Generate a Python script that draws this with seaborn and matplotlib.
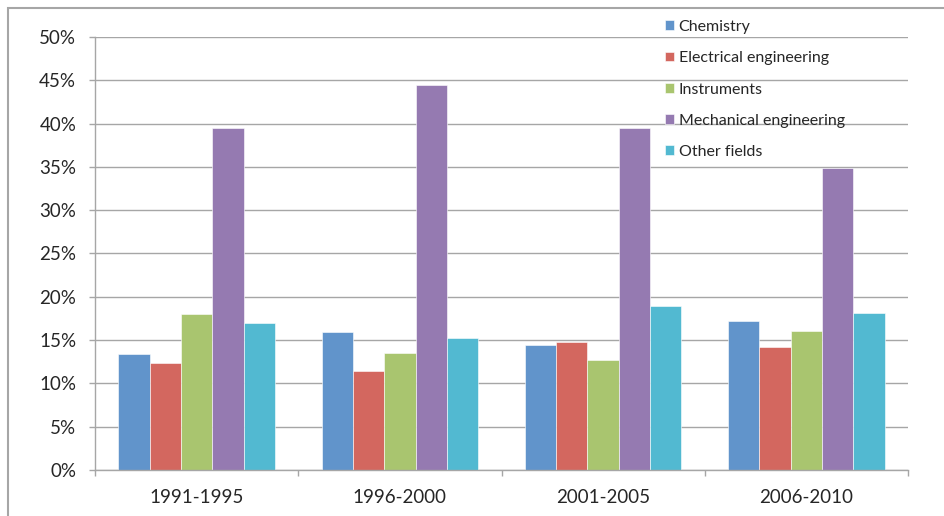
import matplotlib
matplotlib.use("Agg")
import matplotlib.pyplot as plt
import seaborn as sns
import pandas as pd
import numpy as np
from matplotlib.patches import Rectangle
from matplotlib.ticker import FuncFormatter, MultipleLocator, FixedLocator

periods = ["1991-1995", "1996-2000", "2001-2005", "2006-2010"]
fields = ["Chemistry", "Electrical engineering", "Instruments",
          "Mechanical engineering", "Other fields"]
chemistry = [13.4, 15.9, 14.4, 17.2]
electrical = [12.4, 11.4, 14.8, 14.2]
instruments = [18.0, 13.5, 12.7, 16.0]
mechanical = [39.5, 44.4, 39.5, 34.9]
other = [17.0, 15.2, 18.9, 18.1]
colors = ["#6194CB", "#D3675F", "#A9C56F", "#957AB1", "#52B9D1"]

series = [chemistry, electrical, instruments, mechanical, other]
rows = []
for f, vals in zip(fields, series):
    for p, v in zip(periods, vals):
        rows.append({"period": p, "field": f, "share": v})
df = pd.DataFrame(rows)

sns.set_style("white")
plt.rcParams["font.family"] = ["Lato", "DejaVu Sans"]

fig = plt.figure(figsize=(9.44, 5.16), dpi=100)
ax = fig.add_axes([95/944, 1-470/516, (908-95)/944, (470-37)/516])

sns.barplot(data=df, x="period", y="share", hue="field", order=periods,
            hue_order=fields, palette=colors, width=0.77, ax=ax,
            saturation=1, edgecolor="white", linewidth=0.4, errorbar=None)

ax.set_ylim(0, 50)
ax.set_xlim(-0.5, 3.5)
ax.yaxis.set_major_locator(MultipleLocator(5))
ax.yaxis.set_major_formatter(FuncFormatter(lambda v, p: f"{int(round(v))}%"))
ax.grid(axis="y", color="#A6A6A6", linewidth=1.0)
ax.set_axisbelow(True)
for s in ["top", "right"]:
    ax.spines[s].set_visible(False)
for s in ["left", "bottom"]:
    ax.spines[s].set_color("#A6A6A6")
    ax.spines[s].set_linewidth(1.0)
ax.tick_params(axis="y", which="major", length=4.5, width=1.0, color="#A6A6A6",
               labelsize=13.5, pad=9, left=True)
ax.xaxis.set_minor_locator(FixedLocator([-0.5, 0.5, 1.5, 2.5, 3.5]))
ax.tick_params(axis="x", which="major", length=0, labelsize=13.5, pad=14)
ax.tick_params(axis="x", which="minor", length=4.5, width=1.0, color="#A6A6A6",
               bottom=True)
ax.set_xlabel("")
ax.set_ylabel("")

handles, labels = ax.get_legend_handles_labels()
ax.legend(handles, labels, loc="upper left", bbox_to_anchor=(665/944, 1-20/516),
          bbox_transform=fig.transFigure, frameon=False, fontsize=11.5,
          handlelength=0.56, handleheight=0.56, handletextpad=0.3,
          labelspacing=1.08, borderaxespad=0, borderpad=0)

fig.patches.append(Rectangle((8/944, -0.1), 1.2, 1.1 - 8/516 + 0.0,
                             transform=fig.transFigure, fill=False,
                             edgecolor="#A6A6A6", linewidth=1.5))

fig.savefig("out.png", dpi=100)
